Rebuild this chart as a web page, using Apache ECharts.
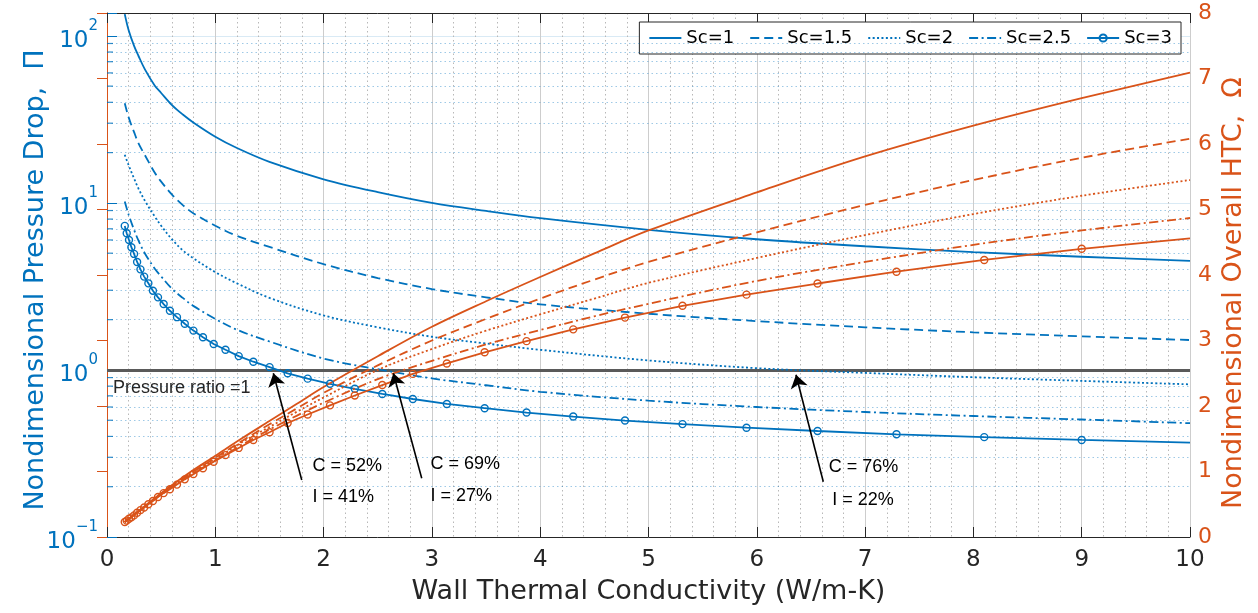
<!DOCTYPE html>
<html>
<head>
<meta charset="utf-8">
<script src="https://cdn.jsdelivr.net/npm/echarts@6/dist/echarts.min.js"></script>
<style>html,body{margin:0;padding:0;background:#fff}#c{width:1258px;height:613px}</style>
</head>
<body>
<div id="c"></div>
<script>
// ---------- data ----------
const seriesNames = ['Sc=1', 'Sc=1.5', 'Sc=2', 'Sc=2.5', 'Sc=3'];

// x positions of the marker curves (Sc=3)
const markX = [0.164, 0.182, 0.203, 0.225, 0.250, 0.278, 0.309, 0.343, 0.382, 0.424, 0.471, 0.523, 0.581, 0.646, 0.718, 0.798, 0.886, 0.985, 1.094, 1.216, 1.351, 1.501, 1.668, 1.853, 2.059, 2.288, 2.542, 2.824, 3.138, 3.487, 3.874, 4.305, 4.783, 5.314, 5.905, 6.561, 7.290, 8.100, 9.000, 10.0];
const pi3 = [7.28, 6.58, 6.00, 5.43, 4.95, 4.43, 4.00, 3.62, 3.30, 2.98, 2.72, 2.48, 2.26, 2.07, 1.89, 1.72, 1.57, 1.43, 1.32, 1.21, 1.12, 1.04, 0.955, 0.887, 0.826, 0.771, 0.718, 0.670, 0.626, 0.590, 0.556, 0.526, 0.498, 0.474, 0.451, 0.431, 0.412, 0.396, 0.381, 0.367];
const om3 = [0.23, 0.25, 0.28, 0.30, 0.33, 0.37, 0.41, 0.45, 0.50, 0.55, 0.61, 0.67, 0.73, 0.80, 0.88, 0.96, 1.05, 1.15, 1.25, 1.36, 1.48, 1.60, 1.74, 1.87, 2.01, 2.16, 2.32, 2.49, 2.65, 2.82, 2.99, 3.17, 3.35, 3.53, 3.70, 3.87, 4.05, 4.23, 4.40, 4.56];

// pressure-drop curves (left, log axis)
const piX = [0.164, 0.2, 0.25, 0.29, 0.35, 0.44, 0.5, 0.6, 0.7, 0.8, 1.0, 1.2, 1.5, 2.0, 2.5, 3.0, 3.5, 4.0, 5.0, 6.0, 7.0, 8.0, 9.0, 10.0];
const pi1 = [135, 108, 87, 76, 63, 50.5, 45.5, 38.5, 33.8, 30.2, 24.9, 21.3, 17.6, 13.85, 11.6, 10.0, 8.95, 8.1, 6.9, 6.06, 5.5, 5.08, 4.76, 4.5];
const pi15 = [39.5, 32.5, 26.5, 22.8, 19.3, 15.2, 13.4, 11.2, 9.7, 8.65, 7.3, 6.35, 5.45, 4.3, 3.55, 3.05, 2.72, 2.47, 2.17, 1.96, 1.8, 1.68, 1.59, 1.51];
const pi2 = [19.4, 16.8, 14.0, 12.2, 10.3, 8.3, 7.3, 6.05, 5.2, 4.65, 3.85, 3.3, 2.70, 2.12, 1.8, 1.58, 1.44, 1.32, 1.14, 1.025, 0.96, 0.905, 0.86, 0.82];
const pi25 = [10.2, 8.5, 6.9, 5.96, 4.98, 4.05, 3.63, 3.06, 2.7, 2.41, 2.02, 1.74, 1.48, 1.17, 1.01, 0.89, 0.81, 0.74, 0.655, 0.60, 0.56, 0.53, 0.505, 0.48];

// heat-transfer curves (right axis)
const omX = [0.164, 0.3, 0.5, 0.75, 1.0, 1.25, 1.5, 1.75, 2.0, 2.5, 3.0, 3.5, 4.0, 4.5, 5.0, 6.0, 7.0, 8.0, 9.0, 10.0];
const om1 = [0.23, 0.41, 0.67, 0.97, 1.24, 1.51, 1.77, 2.03, 2.29, 2.76, 3.21, 3.60, 3.97, 4.33, 4.68, 5.26, 5.81, 6.28, 6.70, 7.09];
const om15 = [0.23, 0.405, 0.66, 0.95, 1.21, 1.47, 1.72, 1.96, 2.20, 2.62, 3.00, 3.33, 3.64, 3.93, 4.20, 4.65, 5.07, 5.45, 5.79, 6.08];
const om2 = [0.23, 0.40, 0.655, 0.94, 1.19, 1.45, 1.68, 1.91, 2.13, 2.55, 2.87, 3.15, 3.40, 3.64, 3.88, 4.26, 4.61, 4.93, 5.21, 5.45];
const om25 = [0.23, 0.40, 0.65, 0.925, 1.17, 1.41, 1.64, 1.85, 2.05, 2.41, 2.69, 2.94, 3.16, 3.37, 3.56, 3.91, 4.20, 4.46, 4.68, 4.87];

// minor log grid values
const logMinor = [0.2, 0.3, 0.4, 0.5, 0.6, 0.7, 0.8, 0.9, 2, 3, 4, 5, 6, 7, 8, 9, 20, 30, 40, 50, 60, 70, 80, 90];

// annotations (data coordinates)
const arrows = [
  { from: [1.798, 0.2195], to: [1.536, 0.955] },
  { from: [2.906, 0.2246], to: [2.644, 0.955] },
  { from: [6.614, 0.2143], to: [6.362, 0.935] }
];
const notes = [
  { text: 'C = 52%', at: [1.893, 0.266] },
  { text: 'I = 41%', at: [1.893, 0.174] },
  { text: 'C = 69%', at: [2.982, 0.274] },
  { text: 'I = 27%', at: [2.982, 0.177] },
  { text: 'C = 76%', at: [6.66, 0.264] },
  { text: 'I = 22%', at: [6.692, 0.1666] }
];
const refLabel = { text: 'Pressure ratio =1', at: [0.05, 0.78] };

// ---------- styles ----------
const BLUE = '#0072BD', ORANGE = '#D95319', DARK = '#262626';
const FONT = 'DejaVu Sans';
const dashTypes = ['solid', [9, 5], [2, 2.4], [9, 3.5, 2, 3.5], 'solid'];
const LW = 1.8;
const NONE = 'rgba(0,0,0,0)';

function pairs(xs, ys) { return xs.map((x, i) => [x, ys[i]]); }
function markerPairs(xs, ys) {
  return xs.map((x, i) => i === xs.length - 1 ? { value: [x, ys[i]], symbol: 'none' } : [x, ys[i]]);
}

const piSets = [pi1, pi15, pi2, pi25];
const omSets = [om1, om15, om2, om25];
const series = [];

piSets.forEach((arr, i) => {
  series.push({
    name: seriesNames[i], type: 'line', xAxisIndex: 0, yAxisIndex: 0,
    data: pairs(piX, arr), smooth: 0.35, symbol: 'none',
    lineStyle: { color: BLUE, width: LW, type: dashTypes[i] }, itemStyle: { color: NONE },
    z: 5
  });
});
series.push({
  name: seriesNames[4], type: 'line', xAxisIndex: 0, yAxisIndex: 0,
  data: markerPairs(markX, pi3), symbol: 'circle', symbolSize: 7, showSymbol: true,
  lineStyle: { color: BLUE, width: LW }, itemStyle: { color: NONE, borderColor: BLUE, borderWidth: 1.4 },
  z: 5
});
omSets.forEach((arr, i) => {
  series.push({
    name: 'HTC ' + seriesNames[i], type: 'line', xAxisIndex: 0, yAxisIndex: 1,
    data: pairs(omX, arr), smooth: 0.35, symbol: 'none',
    lineStyle: { color: ORANGE, width: LW, type: dashTypes[i] }, itemStyle: { color: NONE },
    z: 5
  });
});
series.push({
  name: 'HTC ' + seriesNames[4], type: 'line', xAxisIndex: 0, yAxisIndex: 1,
  data: markerPairs(markX, om3), symbol: 'circle', symbolSize: 7, showSymbol: true,
  lineStyle: { color: ORANGE, width: LW }, itemStyle: { color: NONE, borderColor: ORANGE, borderWidth: 1.4 },
  z: 5
});

// minor log ticks + grid + reference line + annotations
series.push({
  name: 'minor', type: 'scatter', xAxisIndex: 0, yAxisIndex: 0, clip: false, silent: true,
  data: logMinor.map(v => [0, v]), symbol: 'rect', symbolSize: [6, 1.2], symbolOffset: [3, 0],
  itemStyle: { color: BLUE }, z: 3,
  markLine: {
    silent: true, symbol: 'none', animation: false,
    label: { show: false },
    lineStyle: { color: 'rgba(0,114,189,0.38)', type: [1.5, 3], width: 1 },
    data: logMinor.map(v => ({ yAxis: v }))
  }
});
series.push({
  name: 'ref', type: 'line', xAxisIndex: 0, yAxisIndex: 0, data: [], silent: true,
  markLine: {
    silent: true, symbol: 'none', animation: false, z: 4,
    label: { show: false },
    lineStyle: { color: '#5a5a5a', type: 'solid', width: 3 },
    data: [{ yAxis: 1 }]
  }
});
series.push({
  name: 'arrows', type: 'line', xAxisIndex: 0, yAxisIndex: 0, data: [], silent: true, z: 10,
  markLine: {
    silent: true, animation: false, symbol: ['none', 'arrow'], symbolSize: 13, z: 10,
    label: { show: false },
    lineStyle: { color: '#000', type: 'solid', width: 1.6 },
    data: arrows.map(a => [{ coord: a.from }, { coord: a.to }])
  },
  markPoint: {
    silent: true, animation: false, symbol: 'circle', symbolSize: 1, z: 10,
    itemStyle: { color: NONE },
    label: { show: true, position: 'right', distance: 0, fontSize: 18, fontFamily: 'Liberation Sans', color: '#000', formatter: p => p.name },
    data: notes.map(n => ({ name: n.text, coord: n.at })).concat([
      { name: refLabel.text, coord: refLabel.at, label: { color: DARK } }
    ])
  }
});

const option = {
  animation: false,
  backgroundColor: '#fff',
  textStyle: { fontFamily: FONT },
  grid: { left: 107, right: 68, top: 13, bottom: 76, containLabel: false },
  legend: {
    data: seriesNames, right: 77, top: 22, orient: 'horizontal',
    itemWidth: 32, itemHeight: 9, itemGap: 15,
    textStyle: { fontSize: 18, color: '#000', fontFamily: FONT },
    borderColor: DARK, borderWidth: 1, backgroundColor: '#fff', padding: [7, 9, 7, 9], borderRadius: 0
  },
  xAxis: [{
    type: 'value', min: 0, max: 10, interval: 1, position: 'bottom',
    name: 'Wall Thermal Conductivity (W/m-K)', nameLocation: 'middle', nameGap: 41, nameMoveOverlap: false,
    nameTextStyle: { fontSize: 27, color: DARK, fontFamily: FONT },
    axisLine: { show: true, onZero: false, lineStyle: { color: DARK, width: 1 } },
    axisTick: { show: true, inside: true, length: 10, lineStyle: { color: DARK } },
    axisLabel: { fontSize: 23, color: DARK, margin: 12, fontFamily: FONT },
    splitLine: { show: true, lineStyle: { color: '#cdcdcd', width: 1 } },
    minorTick: { show: false, splitNumber: 5 },
    minorSplitLine: { show: true, lineStyle: { color: '#b8b8b8', type: [1.5, 3], width: 1 } }
  }, {
    type: 'value', min: 0, max: 10, interval: 1, position: 'top',
    axisLine: { show: true, onZero: false, lineStyle: { color: DARK, width: 1 } },
    axisTick: { show: true, inside: true, length: 10, lineStyle: { color: DARK } },
    axisLabel: { show: false }, splitLine: { show: false }
  }],
  yAxis: [{
    type: 'log', logBase: 10, min: 0.1, max: 137, position: 'left',
    name: 'Nondimensional Pressure Drop,  Π', nameLocation: 'middle', nameRotate: 90, nameGap: 58, nameMoveOverlap: false,
    nameTextStyle: { fontSize: 27, color: BLUE, fontFamily: FONT, padding: [0, 10, 0, 0] },
    axisLine: { show: true, lineStyle: { color: BLUE, width: 1 } },
    axisTick: { show: true, inside: true, length: 10, lineStyle: { color: BLUE } },
    axisLabel: {
      color: BLUE, margin: 9, fontFamily: FONT,
      formatter: v => {
        const e = Math.log10(v);
        if (Math.abs(e - Math.round(e)) > 1e-6) return '';
        return '{b|10}{s|' + String(Math.round(e)).replace('-', '−') + '}';
      },
      rich: {
        b: { fontSize: 23, color: BLUE, fontFamily: FONT, lineHeight: 34, verticalAlign: 'bottom' },
        s: { fontSize: 15, color: BLUE, fontFamily: FONT, verticalAlign: 'top' }
      }
    },
    splitLine: { show: true, lineStyle: { color: 'rgba(0,114,189,0.15)', width: 1 } },
    minorSplitLine: { show: false }
  }, {
    type: 'value', min: 0, max: 8, interval: 1, position: 'right',
    name: 'Nondimensional Overall HTC,  Ω', nameLocation: 'middle', nameRotate: 90, nameGap: 30, nameMoveOverlap: false,
    nameTextStyle: { fontSize: 27, color: ORANGE, fontFamily: FONT, padding: [0, 36, 0, 0] },
    axisLine: { show: true, lineStyle: { color: ORANGE, width: 1 } },
    axisTick: { show: true, inside: true, length: 10, lineStyle: { color: ORANGE } },
    axisLabel: { fontSize: 22, color: ORANGE, margin: 8, fontFamily: FONT },
    splitLine: { show: false }
  }],
  series: series
};

const chart = echarts.init(document.getElementById('c'), null, { renderer: 'canvas' });
chart.setOption(option);
</script>
</body>
</html>
